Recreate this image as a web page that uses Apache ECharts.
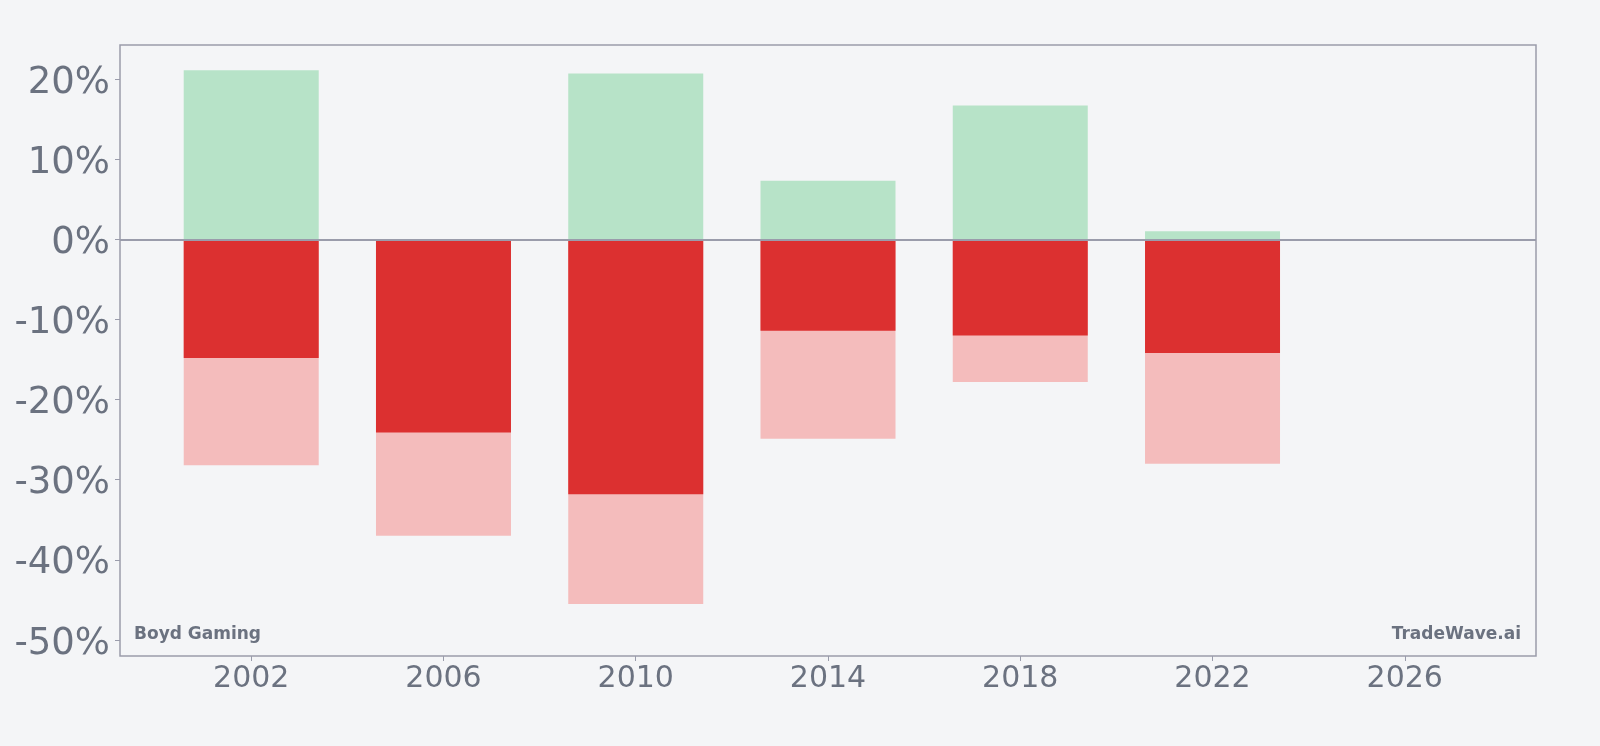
<!DOCTYPE html>
<html>
<head>
<meta charset="utf-8">
<script src="https://cdn.jsdelivr.net/npm/echarts@6/dist/echarts.min.js"></script>
<style>
  html, body { margin: 0; padding: 0; background: #f4f5f7; }
  #chart { width: 1600px; height: 746px; }
</style>
</head>
<body>
<div id="chart"></div>
<script>
// years with bars
var years = [2002, 2006, 2010, 2014, 2018, 2022];
// best gain in the period (%)
var gains = [21.1, 0, 20.7, 7.3, 16.7, 1.0];
// drawdown (%)
var drawdowns = [-14.8, -24.1, -31.8, -11.4, -12.0, -14.2];
// worst decline (%)
var declines = [-28.2, -37.0, -45.5, -24.9, -17.8, -28.0];

var xTicks = [2002, 2006, 2010, 2014, 2018, 2022, 2026];
var yTicks = [-50, -40, -30, -20, -10, 0, 10, 20];

function pairs(vals) {
    var out = [];
    for (var i = 0; i < years.length; i++) {
        out.push([years[i], vals[i]]);
    }
    return out;
}

var axisColor = '#9a9cab';
var textColor = '#6b7280';
var font = 'DejaVu Sans';

var chart = echarts.init(document.getElementById('chart'));

var option = {
    backgroundColor: '#f4f5f7',
    animation: false,
    grid: {
        left: 120,
        right: 64,
        top: 45,
        bottom: 90,
        show: true,
        borderColor: axisColor,
        borderWidth: 1.5,
        backgroundColor: 'transparent'
    },
    xAxis: {
        type: 'value',
        min: 1999.27,
        max: 2028.73,
        splitLine: { show: false },
        axisLine: { show: false, onZero: false },
        axisTick: {
            show: true,
            length: 5,
            customValues: xTicks,
            lineStyle: { color: axisColor, width: 1 }
        },
        axisLabel: {
            customValues: xTicks,
            color: textColor,
            fontFamily: font,
            fontSize: 30,
            margin: 8,
            formatter: function (v) { return String(v); }
        }
    },
    yAxis: {
        type: 'value',
        min: -52,
        max: 24.25,
        splitLine: { show: false },
        axisLine: { show: false, onZero: false },
        axisTick: {
            show: true,
            length: 5,
            customValues: yTicks,
            lineStyle: { color: axisColor, width: 1 }
        },
        axisLabel: {
            customValues: yTicks,
            margin: 10,
            formatter: function (v) { return '{t|' + v + '%}'; },
            rich: {
                t: {
                    color: textColor,
                    fontFamily: font,
                    fontSize: 37,
                    padding: [8, 0, 0, 0]
                }
            }
        }
    },
    graphic: [
        {
            type: 'text',
            left: 134,
            top: 626,
            style: {
                text: 'Boyd Gaming',
                fill: textColor,
                font: 'bold 17px "DejaVu Sans"'
            }
        },
        {
            type: 'text',
            right: 79,
            top: 626,
            style: {
                text: 'TradeWave.ai',
                fill: textColor,
                font: 'bold 17px "DejaVu Sans"'
            }
        }
    ],
    series: [
        {
            name: 'decline',
            type: 'bar',
            data: pairs(declines),
            barWidth: 135,
            itemStyle: { color: '#f4bcbc' }
        },
        {
            name: 'drawdown',
            type: 'bar',
            data: pairs(drawdowns),
            barWidth: 135,
            barGap: '-100%',
            itemStyle: { color: '#dc3030' }
        },
        {
            name: 'gain',
            type: 'bar',
            data: pairs(gains),
            barWidth: 135,
            barGap: '-100%',
            itemStyle: { color: '#b7e3c8' },
            markLine: {
                silent: true,
                symbol: 'none',
                label: { show: false },
                lineStyle: { color: axisColor, width: 2, type: 'solid' },
                data: [{ yAxis: 0 }]
            }
        }
    ]
};

chart.setOption(option);
</script>
</body>
</html>
